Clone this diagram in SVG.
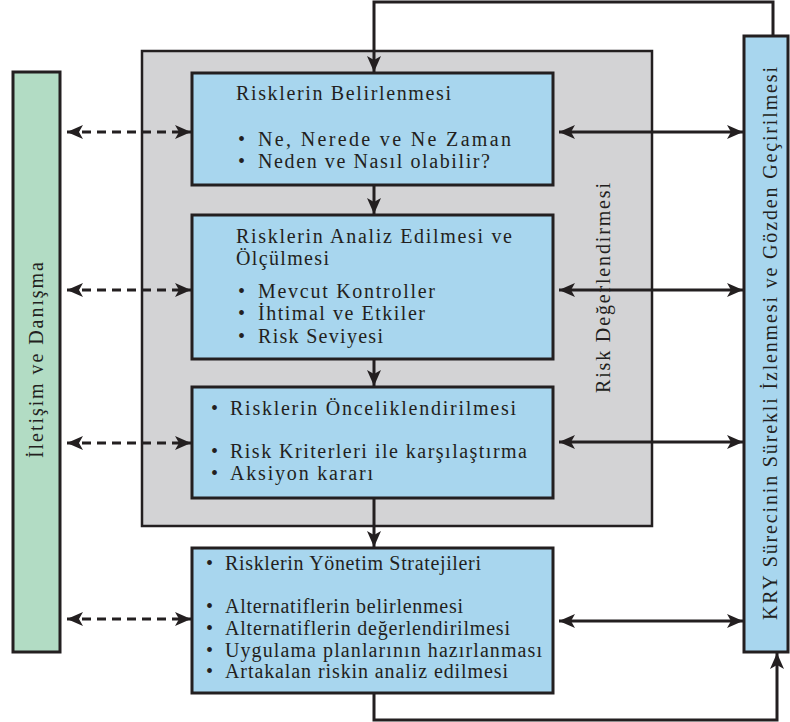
<svg xmlns="http://www.w3.org/2000/svg" width="790" height="722" viewBox="0 0 790 722">
<style>
.box{fill:#a8d6ee;stroke:#231f20;stroke-width:3}
.t{font-family:"Liberation Serif",serif;font-size:20px;fill:#231f20}
.ln{fill:none;stroke:#231f20;stroke-width:3}
.dash{fill:none;stroke:#231f20;stroke-width:3;stroke-dasharray:9,6}
</style>
<defs>
<marker id="ah" markerUnits="userSpaceOnUse" markerWidth="18" markerHeight="14" refX="16" refY="7" orient="auto-start-reverse">
<path d="M0,0 L16,7 L0,14 L4,7 z" fill="#231f20"/>
</marker>
</defs>
<rect width="790" height="722" fill="#fff"/>
<g id="iletisim">
<rect x="13" y="72" width="47" height="580" fill="#b2dcc4" stroke="#231f20" stroke-width="3"/>
<text class="t" transform="translate(43,458) rotate(-90)" textLength="196" lengthAdjust="spacing">İletişim ve Danışma</text>
</g>
<g id="risk-degerlendirmesi">
<rect x="142" y="51" width="510" height="475" fill="#d3d3d5" stroke="#231f20" stroke-width="2.5"/>
<text class="t" transform="translate(610,393) rotate(-90)" textLength="210" lengthAdjust="spacing">Risk Değerlendirmesi</text>
</g>
<g id="kry">
<rect x="744" y="36" width="44" height="616" class="box"/>
<text class="t" transform="translate(777,620) rotate(-90)" textLength="553" lengthAdjust="spacing">KRY Sürecinin Sürekli İzlenmesi ve Gözden Geçirilmesi</text>
</g>
<g id="belirlenmesi">
<rect x="192" y="73" width="361" height="112" class="box"/>
<text class="t" x="236" y="100" textLength="215" lengthAdjust="spacing">Risklerin Belirlenmesi</text>
<text class="t" x="238" y="146">•</text>
<text class="t" x="258" y="146" textLength="253" lengthAdjust="spacing">Ne, Nerede ve Ne Zaman</text>
<text class="t" x="238" y="168">•</text>
<text class="t" x="258" y="168" textLength="232" lengthAdjust="spacing">Neden ve Nasıl olabilir?</text>
</g>
<g id="analiz">
<rect x="192" y="215" width="361" height="144" class="box"/>
<text class="t" x="236" y="243" textLength="276" lengthAdjust="spacing">Risklerin Analiz Edilmesi ve</text>
<text class="t" x="236" y="265" textLength="93" lengthAdjust="spacing">Ölçülmesi</text>
<text class="t" x="238" y="298">•</text>
<text class="t" x="258" y="298" textLength="177" lengthAdjust="spacing">Mevcut Kontroller</text>
<text class="t" x="238" y="320">•</text>
<text class="t" x="258" y="320" textLength="167" lengthAdjust="spacing">İhtimal ve Etkiler</text>
<text class="t" x="238" y="343">•</text>
<text class="t" x="258" y="343" textLength="125" lengthAdjust="spacing">Risk Seviyesi</text>
</g>
<g id="onceliklendirme">
<rect x="192" y="387" width="361" height="111" class="box"/>
<text class="t" x="211" y="415">•</text>
<text class="t" x="230" y="415" textLength="286" lengthAdjust="spacing">Risklerin Önceliklendirilmesi</text>
<text class="t" x="211" y="458">•</text>
<text class="t" x="230" y="458" textLength="297" lengthAdjust="spacing">Risk Kriterleri ile karşılaştırma</text>
<text class="t" x="211" y="480">•</text>
<text class="t" x="230" y="480" textLength="143" lengthAdjust="spacing">Aksiyon kararı</text>
</g>
<g id="yonetim">
<rect x="192" y="548" width="361" height="145" class="box"/>
<text class="t" x="206" y="570">•</text>
<text class="t" x="225" y="570" textLength="256" lengthAdjust="spacing">Risklerin Yönetim Stratejileri</text>
<text class="t" x="206" y="613">•</text>
<text class="t" x="225" y="613" textLength="238" lengthAdjust="spacing">Alternatiflerin belirlenmesi</text>
<text class="t" x="206" y="635">•</text>
<text class="t" x="225" y="635" textLength="285" lengthAdjust="spacing">Alternatiflerin değerlendirilmesi</text>
<text class="t" x="206" y="657">•</text>
<text class="t" x="225" y="657" textLength="317" lengthAdjust="spacing">Uygulama planlarının hazırlanması</text>
<text class="t" x="206" y="678">•</text>
<text class="t" x="225" y="678" textLength="283" lengthAdjust="spacing">Artakalan riskin analiz edilmesi</text>
</g>
<g id="connectors">
<path class="ln" d="M773,36 V2 H374 V72" marker-end="url(#ah)"/>
<path class="ln" d="M374,185 V214" marker-end="url(#ah)"/>
<path class="ln" d="M374,359 V386" marker-end="url(#ah)"/>
<path class="ln" d="M374,498 V547" marker-end="url(#ah)"/>
<path class="ln" d="M374,693 V720 H777 V653" marker-end="url(#ah)"/>
<path class="dash" d="M67,132 H191" marker-start="url(#ah)" marker-end="url(#ah)"/>
<path class="dash" d="M67,290 H191" marker-start="url(#ah)" marker-end="url(#ah)"/>
<path class="dash" d="M67,443 H191" marker-start="url(#ah)" marker-end="url(#ah)"/>
<path class="dash" d="M67,619 H191" marker-start="url(#ah)" marker-end="url(#ah)"/>
<path class="ln" d="M559,132 H743" marker-start="url(#ah)" marker-end="url(#ah)"/>
<path class="ln" d="M559,290 H743" marker-start="url(#ah)" marker-end="url(#ah)"/>
<path class="ln" d="M559,442 H743" marker-start="url(#ah)" marker-end="url(#ah)"/>
<path class="ln" d="M559,621 H743" marker-start="url(#ah)" marker-end="url(#ah)"/>
</g>
</svg>
